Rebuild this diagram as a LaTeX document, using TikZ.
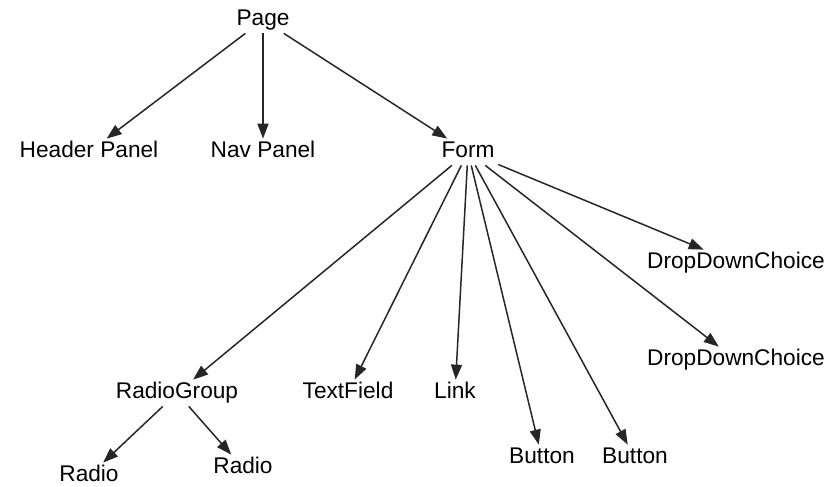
\documentclass[tikz,border=0pt]{standalone}
\usepackage{fontspec}
\setmainfont{Liberation Sans}
\usepackage{tikz}
\usetikzlibrary{arrows.meta}

\begin{document}
\begin{tikzpicture}[
    comp/.style={inner sep=2pt, font=\fontsize{12.9}{15}\selectfont, text height=1.6ex, text depth=0.45ex},
    arrow/.style={-{Triangle[length=0.3cm, width=0.22cm]}, line width=0.85pt, draw=black!85}
]
    \useasboundingbox (0,0) rectangle (16.8,9.72);

    % Components
    \node[comp] (page) at (5.26,9.32) {Page};
    \node[comp] (header) at (1.78,6.68) {Header Panel};
    \node[comp] (nav) at (5.26,6.68) {Nav Panel};
    \node[comp] (form) at (9.36,6.68) {Form};
    \node[comp] (ddc1) at (14.72,4.46) {DropDownChoice};
    \node[comp] (ddc2) at (14.72,2.52) {DropDownChoice};
    \node[comp] (radiogroup) at (3.54,1.86) {RadioGroup};
    \node[comp] (textfield) at (6.96,1.86) {TextField};
    \node[comp] (link) at (9.10,1.86) {Link};
    \node[comp] (button1) at (10.84,0.56) {Button};
    \node[comp] (button2) at (12.70,0.56) {Button};
    \node[comp] (radio1) at (1.78,0.20) {Radio};
    \node[comp] (radio2) at (4.86,0.36) {Radio};

    % Connections
    \draw[arrow] (page) -- (header);
    \draw[arrow] (page) -- (nav);
    \draw[arrow] (page) -- (form);
    \draw[arrow] (form) -- (radiogroup);
    \draw[arrow] (form) -- (textfield);
    \draw[arrow] (form) -- (link);
    \draw[arrow] (form) -- (button1);
    \draw[arrow] (form) -- (button2);
    \draw[arrow] (form) -- (ddc2);
    \draw[arrow] (form) -- (ddc1);
    \draw[arrow] (radiogroup) -- (radio1);
    \draw[arrow] (radiogroup) -- (radio2);
\end{tikzpicture}
\end{document}
